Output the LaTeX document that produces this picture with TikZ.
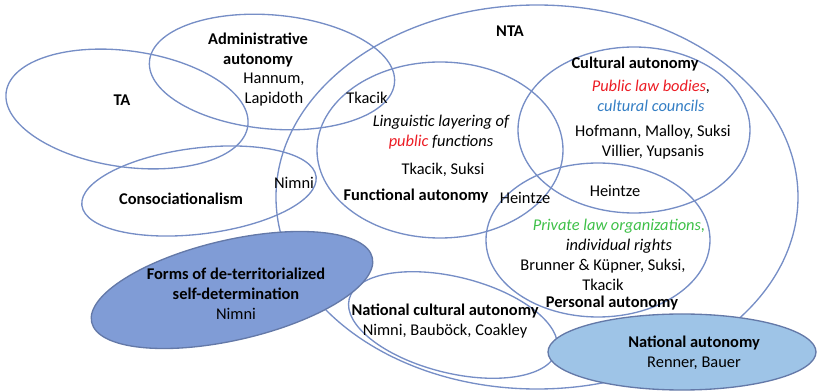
\documentclass[tikz,border=0pt]{standalone}
\usepackage{fontspec}
\setmainfont{Carlito}

\definecolor{ringblue}{RGB}{118,142,198}
\definecolor{formsblue}{RGB}{128,156,214}
\definecolor{natblue}{RGB}{158,196,231}
\definecolor{lawred}{RGB}{236,28,36}
\definecolor{councilblue}{RGB}{52,126,196}
\definecolor{privgreen}{RGB}{62,192,72}

\begin{document}
\begin{tikzpicture}[x=0.75pt, y=-0.75pt,
    ring/.style={draw=ringblue, line width=1pt},
    blob/.style={ring, draw=ringblue!85!black},
    lbl/.style={align=center, inner sep=0pt, font=\fontsize{12.3}{15}\selectfont},
    head/.style={lbl, font=\fontsize{12.3}{15}\selectfont\bfseries},
    note/.style={lbl, font=\fontsize{12.3}{15}\selectfont\itshape}]

    \useasboundingbox (0,0) rectangle (819,392);

    % outlines
    \draw[ring] (537,197) ellipse [x radius=261, y radius=192];
    \draw[ring, rotate around={-8:(127,109)}] (127,109) ellipse [x radius=122, y radius=58];
    \draw[ring, rotate around={-5:(272,72)}] (272,72) ellipse [x radius=123, y radius=57];
    \draw[ring, rotate around={7:(199,191)}] (199,191) ellipse [x radius=118, y radius=43];
    \draw[ring] (440,150) ellipse [x radius=123, y radius=88];
    \draw[ring] (634,130) ellipse [x radius=116, y radius=83];
    \draw[ring] (598,240) ellipse [x radius=112, y radius=77];
    \draw[ring, rotate around={-14:(453,325)}] (453,325) ellipse [x radius=107, y radius=48];

    % filled ones on top
    \draw[blob, fill=formsblue, rotate around={13:(232,290)}] (232,290) ellipse [x radius=144, y radius=50];
    \draw[blob, fill=natblue] (682,352) ellipse [x radius=134, y radius=38];

    % texts
    \node[head] (nta) at (510,31) {NTA};
    \node[head] (ta) at (122,100) {TA};
    \node[head] (adm) at (258,50) {Administrative\\autonomy};
    \node[lbl] (admref) at (274,90) {Hannum,\\Lapidoth};
    \node[lbl] (tkacik) at (367,98) {Tkacik};
    \node[lbl] (nimni) at (294,183) {Nimni};
    \node[head] (consoc) at (181,199) {Consociationalism};

    \node[note] (ling) at (441,132) {Linguistic layering of\\\textcolor{lawred}{public} functions};
    \node[lbl] (lingref) at (443,170) {Tkacik, Suksi};
    \node[head] (func) at (416,196) {Functional autonomy};
    \node[lbl] (heintzel) at (525,198) {Heintze};

    \node[head] (cult) at (635,64) {Cultural autonomy};
    \node[note] (cultnote) at (651,96) {\textcolor{lawred}{Public law bodies},\\\textcolor{councilblue}{cultural councils}};
    \node[lbl] (cultref) at (653,142) {Hofmann, Malloy, Suksi\\Villier, Yupsanis};
    \node[lbl] (heintzer) at (615,191) {Heintze};

    \node[note] (pers note) at (619,236) {\textcolor{privgreen}{Private law organizations,}\\individual rights};
    \node[lbl] (persref) at (603,275) {Brunner \& Küpner, Suksi,\\Tkacik};
    \node[head] (pers) at (612,303) {Personal autonomy};

    \node[lbl] (natcult) at (445,321) {\textbf{National cultural autonomy}\\Nimni, Bauböck, Coakley};
    \node[lbl] (natauto) at (694,353) {\textbf{National autonomy}\\Renner, Bauer};
    \node[lbl] (forms) at (236,294) {\textbf{Forms of de-territorialized}\\\textbf{self-determination}\\Nimni};
\end{tikzpicture}
\end{document}
